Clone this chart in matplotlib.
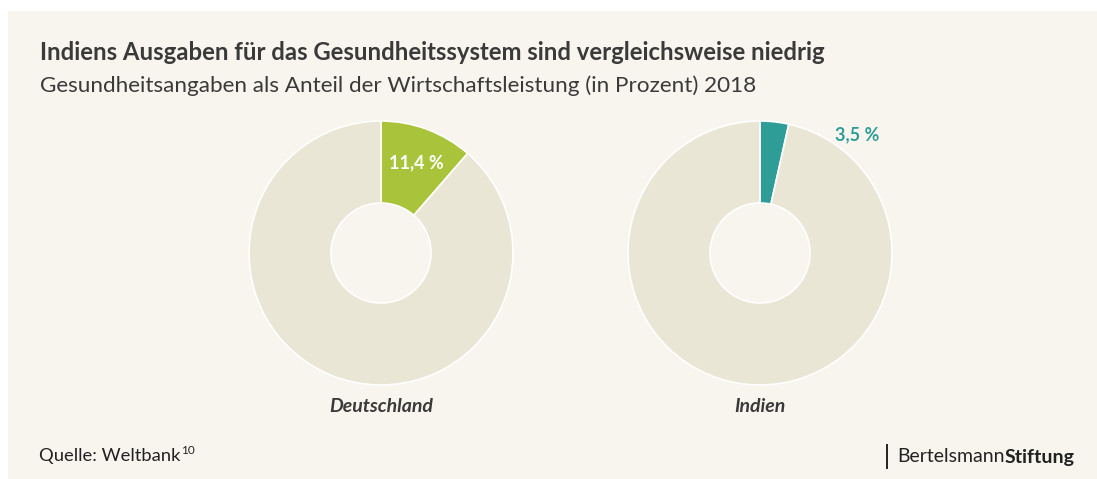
import matplotlib
matplotlib.use("Agg")
import matplotlib.pyplot as plt
from matplotlib.patches import Rectangle

plt.rcParams['font.family'] = ['Lato', 'DejaVu Sans']

countries = ["Deutschland", "Indien"]
shares = [11.4, 3.5]
labels = ["11,4 %", "3,5 %"]
colors = ["#a9c43a", "#2e9d98"]
rest_color = "#e9e6d5"
bg = "#f8f5ee"
text_color = "#3a3a3a"

W, H = 1097, 479
fig = plt.figure(figsize=(W / 100, H / 100), dpi=100)
fig.patch.set_facecolor("white")
fig.patches.append(Rectangle((8 / W, 0), 1 - 8 / W, 1 - 11 / H, transform=fig.transFigure,
                             facecolor=bg, edgecolor="none", zorder=-10))

fig.text(40 / W, 1 - 52 / H, "Indiens Ausgaben für das Gesundheitssystem sind vergleichsweise niedrig",
         fontsize=17.2, fontweight="bold", color=text_color, va="center", ha="left")
fig.text(40 / W, 1 - 86 / H, "Gesundheitsangaben als Anteil der Wirtschaftsleistung (in Prozent) 2018",
         fontsize=16.2, color=text_color, va="center", ha="left")

centers = [381, 760]
r_out = 132
r_in = 50
width = (r_out - r_in) / r_out
for i, (c, s, lab, col) in enumerate(zip(countries, shares, labels, colors)):
    size = 2 * r_out + 4
    ax = fig.add_axes([(centers[i] - size / 2) / W, (H - 253 - size / 2) / H, size / W, size / H],
                      zorder=1)
    ax.set_facecolor("none")
    ax.pie([s, 100 - s], colors=[col, rest_color], startangle=90, counterclock=False,
           radius=1.0, wedgeprops=dict(width=width, edgecolor="white", linewidth=1.2))
    ax.set_xlim(-size / 2 / r_out, size / 2 / r_out)
    ax.set_ylim(-size / 2 / r_out, size / 2 / r_out)
    ax.set_aspect("equal")
    ax.axis("off")
    fig.text(centers[i] / W, 1 - 406 / H, c, fontsize=14, fontweight="bold", fontstyle="italic",
             color=text_color, ha="center", va="center", zorder=3)

fig.text(416 / W, 1 - 163 / H, labels[0], fontsize=13, fontweight="bold", color="white",
         ha="center", va="center", zorder=3)
fig.text(857 / W, 1 - 135 / H, labels[1], fontsize=13, fontweight="bold", color=colors[1],
         ha="center", va="center", zorder=3)

fig.text(39 / W, 1 - 456 / H, "Quelle: Weltbank", fontsize=13.2, color="#222222",
         ha="left", va="center")
fig.text(181 / W, 1 - 451 / H, "10", fontsize=8.5, color="#222222", ha="left", va="center")
fig.add_artist(plt.Line2D([887 / W, 887 / W], [1 - 445 / H, 1 - 468 / H], color="#222222", linewidth=1.4))
fig.text(897 / W, 1 - 457 / H, "Bertelsmann", fontsize=14, color="#222222", ha="left", va="center")
fig.text(1005 / W, 1 - 457 / H, "Stiftung", fontsize=14, fontweight="bold", color="#222222",
         ha="left", va="center")

fig.savefig("out.png", dpi=100, facecolor=fig.get_facecolor())
